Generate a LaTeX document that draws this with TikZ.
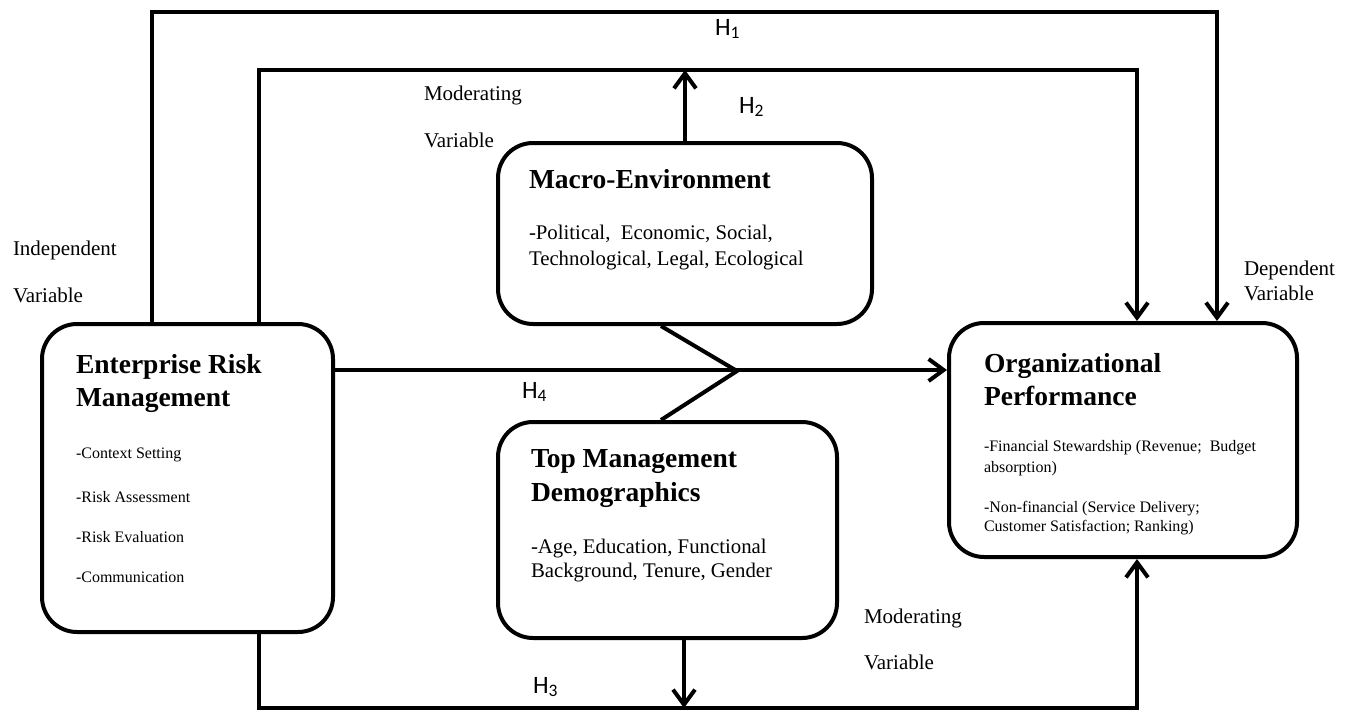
\documentclass[tikz,border=0pt]{standalone}
\usepackage{fontspec}
\setmainfont{Liberation Serif}
\newfontfamily\hfont{Carlito}
\usetikzlibrary{arrows.meta}
\begin{document}
\begin{tikzpicture}[x=1pt,y=-1pt,
  box/.style={draw,line width=4pt,rounded corners=35pt,inner sep=0pt},
  conn/.style={line width=4pt},
  arr/.style={conn,-{Straight Barb[length=15pt,width=22pt]}},
  txt/.style={anchor=base west,inner sep=0pt,outer sep=0pt},
  head/.style={txt,font=\bfseries\fontsize{27.5}{30}\selectfont},
  body/.style={txt,font=\fontsize{20.8}{24}\selectfont},
  small/.style={txt,font=\fontsize{16}{19}\selectfont},
  lab/.style={txt,font=\fontsize{21}{24}\selectfont},
  hyp/.style={txt,font=\hfont\fontsize{25}{27}\selectfont},
]
\useasboundingbox (0,0) rectangle (1353,713);
% boxes
\node[box,minimum width=291pt,minimum height=308pt] (erm) at (187.5,478) {};
\node[box,minimum width=374pt,minimum height=181pt] (me) at (685,233.5) {};
\node[box,minimum width=339pt,minimum height=216pt] (tmd) at (667.5,530) {};
\node[box,minimum width=348pt,minimum height=234pt] (op) at (1123,440) {};
% routing coordinates
\coordinate (h1l) at (152,12);
\coordinate (h1r) at (1217,12);
\coordinate (h2l) at (259,70);
\coordinate (h2r) at (1137,70);
\coordinate (h4y) at (0,370);
\coordinate (tip) at (737,371);
\coordinate (chu) at (661,0);
\coordinate (h3l) at (259,708);
\coordinate (h3r) at (1137,708);
\coordinate (tmdx) at (684,0);
% connectors
\draw[arr] (erm.north -| h1l) |- (h1r) -- (op.north -| h1r);
\draw[arr] (erm.north -| h2l) |- (h2r) -- (op.north -| h2r);
\draw[arr] (me.north) -- (me.north |- h2l);
\draw[arr] (erm.east |- h4y) -- (op.west |- h4y);
\draw[conn] (me.south -| chu) -- (tip) -- (tmd.north -| chu);
\draw[arr] (erm.south -| h3l) -- (h3l) -- (h3r) -- (op.south -| h3r);
\draw[arr] (tmd.south -| tmdx) -- (tmdx |- h3l);
% ERM text
\node[head] (ermh1) at (76,373) {Enterprise Risk};
\node[head] (ermh2) at (76,406) {Management};
\node[small] (erm1) at (76,458) {-Context Setting};
\node[small] (erm2) at (76,502) {-Risk Assessment};
\node[small] (erm3) at (76,542) {-Risk Evaluation};
\node[small] (erm4) at (76,582) {-Communication};
% ME text
\node[head] (meh) at (529,188) {Macro-Environment};
\node[body] (me1) at (529,239) {-Political,\ \ Economic, Social,};
\node[body] (me2) at (529,265) {Technological, Legal, Ecological};
% TMD text
\node[head] (tmdh1) at (531,467) {Top Management};
\node[head] (tmdh2) at (531,501) {Demographics};
\node[body] (tmd1) at (531,553) {-Age, Education, Functional};
\node[body] (tmd2) at (531,577) {Background, Tenure, Gender};
% OP text
\node[head] (oph1) at (984,372) {Organizational};
\node[head] (oph2) at (984,405) {Performance};
\node[small] (op1) at (984,451) {-Financial Stewardship (Revenue;\ \ Budget};
\node[small] (op2) at (984,472) {absorption)};
\node[small] (op3) at (984,512) {-Non-financial (Service Delivery;};
\node[small] (op4) at (984,531) {Customer Satisfaction; Ranking)};
% side labels
\node[lab] (mod1a) at (424,100) {Moderating};
\node[lab] (mod1b) at (424,147) {Variable};
\node[lab] (ind1) at (13,255) {Independent};
\node[lab] (ind2) at (13,302) {Variable};
\node[lab] (dep1) at (1244,275) {Dependent};
\node[lab] (dep2) at (1244,300) {Variable};
\node[lab] (mod2a) at (864,623) {Moderating};
\node[lab] (mod2b) at (864,669) {Variable};
% hypotheses
\node[hyp] (H1) at (715,35) {H\textsubscript{1}};
\node[hyp] (H2) at (739,113) {H\textsubscript{2}};
\node[hyp] (H4) at (522,398) {H\textsubscript{4}};
\node[hyp] (H3) at (533,693) {H\textsubscript{3}};
\end{tikzpicture}
\end{document}
